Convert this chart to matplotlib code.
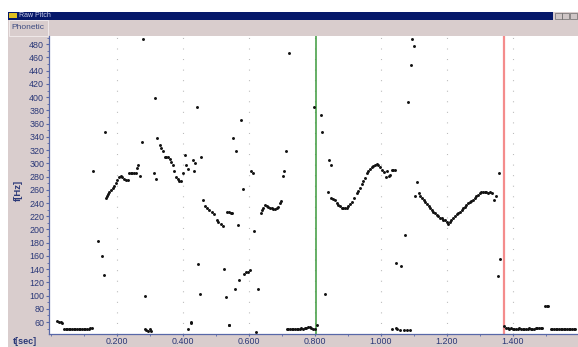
import matplotlib
matplotlib.use("Agg")
import matplotlib.pyplot as plt
from matplotlib.patches import Rectangle
from matplotlib.ticker import MultipleLocator, FixedLocator, FuncFormatter

plt.rcParams['font.family'] = ['Liberation Sans', 'DejaVu Sans']

# ---- data: time [s], pitch [Hz] ----
# near-floor values (~50 Hz) where the tracker drops out
low_t = [0.020, 0.025, 0.030, 0.035,
         0.040, 0.045, 0.050, 0.055, 0.060, 0.065, 0.070, 0.075, 0.080, 0.085,
         0.090, 0.095, 0.100, 0.105, 0.110, 0.115, 0.120, 0.125,
         0.285, 0.290, 0.295, 0.300, 0.305, 0.417, 0.424, 0.539, 0.622,
         0.715, 0.720, 0.725, 0.730, 0.735, 0.740, 0.745, 0.750, 0.755, 0.760,
         0.765, 0.770, 0.775, 0.780, 0.785, 0.790, 0.795, 0.800, 0.806,
         1.033, 1.045, 1.050, 1.060, 1.070, 1.080, 1.089,
         1.375, 1.380, 1.385, 1.390, 1.395, 1.400, 1.405, 1.410, 1.415, 1.420,
         1.425, 1.430, 1.435, 1.440, 1.445, 1.450, 1.455, 1.460, 1.465, 1.470,
         1.475, 1.480, 1.485, 1.490, 1.498, 1.503, 1.507,
         1.515, 1.520, 1.525, 1.530, 1.535, 1.540, 1.545, 1.550, 1.555, 1.560,
         1.565, 1.570, 1.575, 1.580, 1.585, 1.590]
low_f = [61, 60, 60, 59,
         50, 50, 50, 50, 50, 50, 50, 50, 50, 50,
         50, 50, 50, 50, 50, 50, 51, 51,
         49, 48, 47, 49, 46, 49, 59, 56, 45,
         50, 49, 50, 49, 50, 50, 49, 50, 50, 51,
         50, 51, 51, 52, 52, 51, 50, 50, 56,
         49, 51, 50, 48, 48, 48, 48,
         54, 51, 51, 50, 51, 50, 50, 50, 50, 51,
         50, 50, 50, 50, 50, 51, 50, 50, 50, 51,
         51, 51, 51, 51, 84, 85, 84,
         50, 50, 50, 50, 49, 50, 50, 49, 50, 49,
         49, 50, 50, 49, 50, 50]

# voiced contours
c1_t = [0.168, 0.171, 0.175, 0.178, 0.183, 0.188, 0.192, 0.197, 0.202, 0.207,
        0.212, 0.217, 0.222, 0.228, 0.233, 0.238, 0.243, 0.248, 0.253, 0.258,
        0.262, 0.266]
c1_f = [247, 250, 253, 256, 259, 262, 265, 270, 275, 279,
        281, 279, 276, 275, 275, 286, 286, 286, 286, 286,
        293, 298]

c2_t = [0.323, 0.330, 0.334, 0.341, 0.346, 0.350, 0.355, 0.361, 0.365, 0.372,
        0.375, 0.380, 0.385, 0.390, 0.395]
c2_f = [338, 327, 323, 319, 309, 309, 309, 306, 302, 297,
        289, 280, 276, 274, 274]

c3_t = [0.461, 0.468, 0.473, 0.480, 0.488, 0.495, 0.503, 0.508, 0.515, 0.521,
        0.534, 0.540, 0.545, 0.549]
c3_f = [244, 236, 232, 230, 227, 224, 214, 211, 208, 206,
        226, 226, 225, 225]

c4_t = [0.637, 0.640, 0.644, 0.650, 0.655, 0.660, 0.665, 0.670, 0.675, 0.680,
        0.685, 0.690, 0.695, 0.697]
c4_f = [225, 229, 232, 237, 235, 234, 233, 232, 231, 231,
        232, 234, 240, 243]

c5_t = [0.841, 0.851, 0.857, 0.862, 0.867, 0.872, 0.877, 0.882, 0.887, 0.892,
        0.897, 0.902, 0.907, 0.912, 0.920, 0.927, 0.932, 0.937, 0.942, 0.947,
        0.952, 0.959, 0.963, 0.968, 0.973, 0.978, 0.983, 0.988, 0.993, 0.998,
        1.003, 1.010, 1.016, 1.020, 1.028, 1.033, 1.038, 1.043]
c5_f = [256, 247, 246, 245, 240, 237, 235, 233, 232, 232,
        233, 235, 239, 242, 247, 255, 258, 262, 269, 273,
        278, 285, 288, 291, 294, 296, 298, 299, 298, 294,
        290, 287, 280, 289, 282, 290, 290, 290]

c6_t = [1.104, 1.115, 1.119, 1.125, 1.130, 1.135, 1.140, 1.145, 1.150, 1.155,
        1.160, 1.165, 1.170, 1.175, 1.180, 1.185, 1.190, 1.195, 1.200, 1.205,
        1.210, 1.214, 1.218, 1.224, 1.230, 1.235, 1.240, 1.245, 1.250, 1.255,
        1.260, 1.265, 1.270, 1.275, 1.280, 1.285, 1.290, 1.295, 1.300, 1.305,
        1.310, 1.315, 1.320, 1.325, 1.330, 1.336, 1.343, 1.349]
c6_f = [250, 255, 250, 247, 245, 241, 238, 235, 232, 230,
        227, 225, 222, 220, 218, 217, 215, 214, 212, 208,
        212, 215, 218, 221, 223, 225, 227, 229, 232, 234,
        237, 240, 242, 243, 245, 247, 250, 252, 255, 256,
        256, 256, 256, 255, 256, 255, 245, 251]

# isolated octave jumps / spurious picks
odd_t = [0.281, 0.721, 0.317, 0.443, 0.799, 0.577, 0.166, 0.276, 0.553, 0.562,
         0.712, 0.407, 0.430, 0.457, 0.438, 0.410, 0.417, 0.434, 0.402, 0.129,
         0.272, 0.312, 0.320, 0.582, 0.607, 0.613, 0.703, 0.708, 0.568, 0.617,
         0.142, 0.157, 0.161, 0.285, 0.448, 0.452, 0.526, 0.530, 0.559, 0.572,
         0.587, 0.592, 0.597, 0.603, 0.629, 0.425, 0.540,
         0.818, 0.823, 1.096, 1.101, 1.091, 1.082, 0.844, 0.850, 1.109,
         1.359, 1.073, 1.045, 1.063, 0.831, 1.363, 1.356, 1.026]
odd_f = [488, 467, 399, 385, 385, 365, 348, 333, 338, 318,
         318, 313, 305, 309, 300, 298, 292, 289, 286, 289,
         281, 286, 277, 261, 288, 285, 281, 289, 207, 197,
         182, 160, 131, 100, 148, 102, 140, 98, 110, 124,
         133, 135, 136, 139, 110, 60, 56,
         373, 348, 488, 478, 448, 393, 305, 297, 272,
         286, 191, 149, 145, 102, 155, 130, 281]

cursor_green = 0.803
cursor_red = 1.373
y_ticks = list(range(60, 481, 20))
x_labels = [0.2, 0.4, 0.6, 0.8, 1.0, 1.2, 1.4]

# ---- window chrome ----
W, H = 578, 347
fig = plt.figure(figsize=(W / 100, H / 100), dpi=100)
fig.patch.set_facecolor('white')

def box(x, y, w, h, **kw):
    # x, y = top-left corner in pixels
    r = Rectangle((x / W, 1 - (y + h) / H), w / W, h / H,
                  transform=fig.transFigure, zorder=-5, **kw)
    fig.add_artist(r)
    return r

frame = '#d9cdcd'
navy = '#06186a'
txt = '#2a3878'
box(8, 12, 570, 335, facecolor=frame, edgecolor='none')
box(8, 12, 545, 7.5, facecolor=navy, edgecolor='none')
box(9, 13.5, 8, 4.5, facecolor='#e0c020', edgecolor='none')
for bx in (555, 562, 570):
    box(bx, 12.5, 6.5, 6.5, facecolor='#cfc6c6', edgecolor='#555555', linewidth=0.4)
box(8.5, 20, 39.5, 15.5, facecolor=frame, edgecolor='#f4eeee', linewidth=0.6)
fig.text(19 / W, 1 - 15.8 / H, 'Raw Pitch', color='#c8cce8', fontsize=5,
         va='center', ha='left')
fig.text(28 / W, 1 - 27.5 / H, 'Phonetic', color='#3c4a80', fontsize=6,
         va='center', ha='center')
fig.text(25 / W, 1 - 342 / H, 't[sec]', color=txt, fontsize=6.5,
         fontweight='bold', va='center', ha='center')
fig.text(18 / W, 1 - 190 / H, 'f[Hz]', color=txt, fontsize=6.8,
         fontweight='bold', va='center', ha='center', rotation=90)

# ---- plot area ----
ax = fig.add_axes([49 / W, 13 / H, 529 / W, 298 / H])
ax.set_facecolor('white')
ax.set_xlim(-0.005, 1.598)
ax.set_ylim(42, 492.5)

for tx in x_labels:
    ax.axvline(tx, color='#b8b8b8', linewidth=0.8, dashes=(0.9, 8.6), zorder=1)

ax.axvline(cursor_green, color='#3c9a3c', linewidth=1.1, zorder=2)
ax.axvline(cursor_red, color='#f48c8c', linewidth=1.6, zorder=2)

pts_t = low_t + c1_t + c2_t + c3_t + c4_t + c5_t + c6_t + odd_t
pts_f = low_f + c1_f + c2_f + c3_f + c4_f + c5_f + c6_f + odd_f
ax.scatter(pts_t, pts_f, s=4.5, marker='o', color='#111111', linewidths=0, zorder=3)

for side in ('top', 'right'):
    ax.spines[side].set_visible(False)
for side in ('left', 'bottom'):
    ax.spines[side].set_color('#5868a8')
    ax.spines[side].set_linewidth(0.9)

ax.yaxis.set_major_locator(FixedLocator(y_ticks))
ax.yaxis.set_minor_locator(MultipleLocator(10))
ax.xaxis.set_major_locator(FixedLocator(x_labels))
ax.xaxis.set_minor_locator(MultipleLocator(0.1))
ax.xaxis.set_major_formatter(FuncFormatter(lambda v, p: '%.3f' % v))
ax.tick_params(axis='both', which='both', colors='#5868a8', labelcolor=txt,
               labelsize=6.4, direction='out')
ax.tick_params(axis='y', which='major', length=2.5, pad=1)
ax.tick_params(axis='y', which='minor', length=1.5)
ax.tick_params(axis='x', which='major', length=1.5, pad=1)
ax.tick_params(axis='x', which='minor', length=1.5)

fig.savefig('out.png', dpi=100, facecolor=fig.get_facecolor())
